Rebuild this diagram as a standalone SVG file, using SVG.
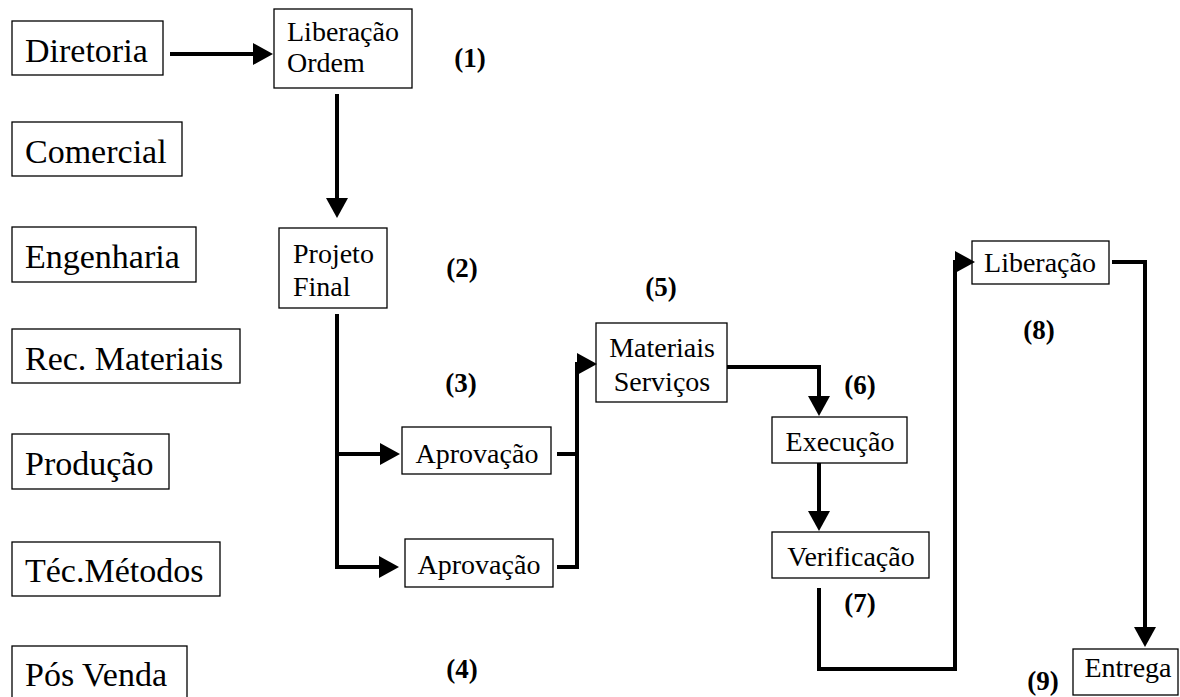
<svg xmlns="http://www.w3.org/2000/svg" width="1180" height="697" viewBox="0 0 1180 697">
  <style>
    .box { fill: #ffffff; stroke: #000000; stroke-width: 1.3; }
    .dept { font-family: "Liberation Serif", "Times New Roman", serif; font-size: 34px; fill: #000000; }
    .step { font-family: "Liberation Serif", "Times New Roman", serif; font-size: 28px; fill: #000000; }
    .num { font-family: "Liberation Serif", "Times New Roman", serif; font-size: 27px; font-weight: bold; fill: #000000; text-anchor: middle; }
    .mid { text-anchor: middle; }
    .flow { fill: none; stroke: #000000; stroke-width: 4; stroke-linejoin: miter; stroke-linecap: butt; }
  </style>
  <defs>
    <marker id="head" viewBox="0 0 20 22" refX="1" refY="11" markerWidth="20" markerHeight="22" markerUnits="userSpaceOnUse" orient="auto">
      <path d="M0,0 L20,11 L0,22 Z" fill="#000000"/>
    </marker>
  </defs>
  <rect width="1180" height="697" fill="#ffffff"/>

  <!-- department column -->
  <g id="diretoria"><rect class="box" x="12" y="21" width="151" height="54"/><text class="dept" x="25" y="62">Diretoria</text></g>
  <g id="comercial"><rect class="box" x="12" y="122" width="170" height="54"/><text class="dept" x="25" y="163">Comercial</text></g>
  <g id="engenharia"><rect class="box" x="12" y="227" width="184" height="55"/><text class="dept" x="25" y="268">Engenharia</text></g>
  <g id="rec-materiais"><rect class="box" x="12" y="329" width="228" height="54"/><text class="dept" x="25" y="370">Rec. Materiais</text></g>
  <g id="producao"><rect class="box" x="12" y="434" width="157" height="55"/><text class="dept" x="25" y="475">Produção</text></g>
  <g id="tec-metodos"><rect class="box" x="12" y="542" width="208" height="54"/><text class="dept" x="25" y="582">Téc.Métodos</text></g>
  <g id="pos-venda"><rect class="box" x="12" y="646" width="175" height="55"/><text class="dept" x="25" y="686">Pós Venda</text></g>

  <!-- process steps -->
  <g id="liberacao-ordem"><rect class="box" x="274" y="9" width="138" height="79"/><text class="step" x="287" y="41">Liberação<tspan x="287" dy="31">Ordem</tspan></text></g>
  <g id="projeto-final"><rect class="box" x="279" y="228" width="108" height="80"/><text class="step" x="293" y="263">Projeto<tspan x="293" dy="33">Final</tspan></text></g>
  <g id="aprovacao-1"><rect class="box" x="402" y="427" width="149" height="47"/><text class="step mid" x="477" y="463">Aprovação</text></g>
  <g id="aprovacao-2"><rect class="box" x="405" y="539" width="148" height="48"/><text class="step mid" x="479" y="574">Aprovação</text></g>
  <g id="materiais-servicos"><rect class="box" x="596" y="323" width="131" height="79"/><text class="step mid" x="662" y="357">Materiais<tspan x="662" dy="34">Serviços</tspan></text></g>
  <g id="execucao"><rect class="box" x="772" y="417" width="135" height="46"/><text class="step mid" x="840" y="451">Execução</text></g>
  <g id="verificacao"><rect class="box" x="772" y="532" width="157" height="46"/><text class="step mid" x="851" y="566">Verificação</text></g>
  <g id="liberacao"><rect class="box" x="972" y="241" width="137" height="43"/><text class="step mid" x="1040" y="272">Liberação</text></g>
  <g id="entrega"><rect class="box" x="1073" y="649" width="105" height="46"/><text class="step mid" x="1128" y="677">Entrega</text></g>

  <!-- step numbers -->
  <g id="numbers">
    <text class="num" x="470" y="67">(1)</text>
    <text class="num" x="462" y="277">(2)</text>
    <text class="num" x="461" y="392">(3)</text>
    <text class="num" x="462" y="678">(4)</text>
    <text class="num" x="661" y="296">(5)</text>
    <text class="num" x="860" y="394">(6)</text>
    <text class="num" x="860" y="612">(7)</text>
    <text class="num" x="1039" y="339">(8)</text>
    <text class="num" x="1043" y="690">(9)</text>
  </g>

  <!-- connectors -->
  <g id="connectors">
    <path class="flow" d="M170,54 H254" marker-end="url(#head)"/>
    <path class="flow" d="M337,94 V199" marker-end="url(#head)"/>
    <path class="flow" d="M337,314 V567 H380" marker-end="url(#head)"/>
    <path class="flow" d="M337,454 H381" marker-end="url(#head)"/>
    <path class="flow" d="M557,454 H577"/>
    <path class="flow" d="M557,567 H577 V364 H578" marker-end="url(#head)"/>
    <path class="flow" d="M727,367 H819 V397" marker-end="url(#head)"/>
    <path class="flow" d="M819,463 V512" marker-end="url(#head)"/>
    <path class="flow" d="M819,588 V669 H955 V262 H956" marker-end="url(#head)"/>
    <path class="flow" d="M1112,262 H1145 V628" marker-end="url(#head)"/>
  </g>
</svg>
